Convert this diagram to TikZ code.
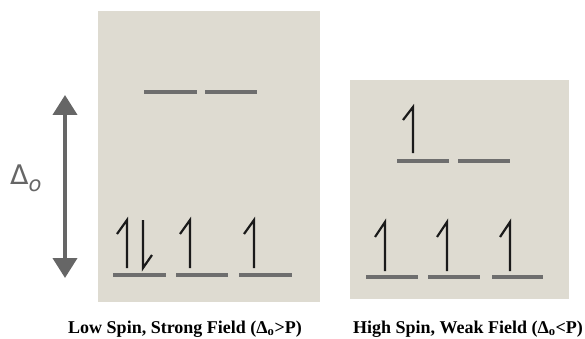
\documentclass[tikz,border=0pt]{standalone}
\usepackage{fontspec}
\setmainfont{Liberation Serif}
\newfontfamily\sansdj{DejaVu Sans}
\usetikzlibrary{arrows.meta}
\definecolor{panelbg}{HTML}{DEDBD1}
\definecolor{levelgray}{HTML}{6E6E6E}
\definecolor{arrowgray}{HTML}{666666}
\definecolor{spinblack}{HTML}{1A1A1A}
\tikzset{
  panel/.style={fill=panelbg, draw=none},
  level/.style={draw=levelgray, line width=3.5pt},
  spin/.style={draw=spinblack, line width=2.2pt, line join=miter},
  caption/.style={font=\fontsize{18}{20}\selectfont\bfseries, text=black, inner sep=0pt, anchor=base},
}
\begin{document}
\begin{tikzpicture}[x=1pt, y=-1pt]
\useasboundingbox (0,0) rectangle (585,339);
\fill[white] (0,0) rectangle (585,339);
% panels
\path[panel] (98,11) rectangle (320,302);
\path[panel] (350,80) rectangle (569,299);
% left panel levels
\draw[level] (144,92) -- (197,92);
\draw[level] (205,92) -- (257,92);
\draw[level] (113,275) -- (166,275);
\draw[level] (176,275) -- (228,275);
\draw[level] (239,275) -- (292,275);
% left panel spins
\draw[spin] (127,268) -- (127,220) -- (117,234);
\draw[spin] (143,220) -- (143,268) -- (152,255);
\draw[spin] (190,268) -- (190,220) -- (180,234);
\draw[spin] (254,268) -- (254,220) -- (244,234);
% right panel levels
\draw[level] (397,161) -- (449,161);
\draw[level] (458,161) -- (510,161);
\draw[level] (366,277) -- (418,277);
\draw[level] (428,277) -- (480,277);
\draw[level] (492,277) -- (543,277);
% right panel spins
\draw[spin] (413,153) -- (413,107) -- (403,120);
\draw[spin] (385,271) -- (385,222) -- (375,237);
\draw[spin] (447,271) -- (447,222) -- (437,237);
\draw[spin] (510,271) -- (510,222) -- (500,237);
% Delta_o arrow
\coordinate (atop) at (65,95);
\coordinate (abot) at (65,278);
\draw[arrowgray, line width=4pt, {Triangle[length=20pt,width=24pt]}-{Triangle[length=20pt,width=24pt]}] (atop) -- (abot);
\node[text=arrowgray, inner sep=0pt, anchor=base west] (dlabel) at (10,184) {\fontsize{27}{30}\selectfont\sansdj Δ\raisebox{-7pt}{\fontsize{21}{24}\selectfont\itshape o}};
% captions
\node[caption] (capL) at (185,333) {Low Spin, Strong Field (Δ\textsubscript{o}>P)};
\node[caption] (capR) at (468,333) {High Spin, Weak Field (Δ\textsubscript{o}<P)};
\end{tikzpicture}
\end{document}
